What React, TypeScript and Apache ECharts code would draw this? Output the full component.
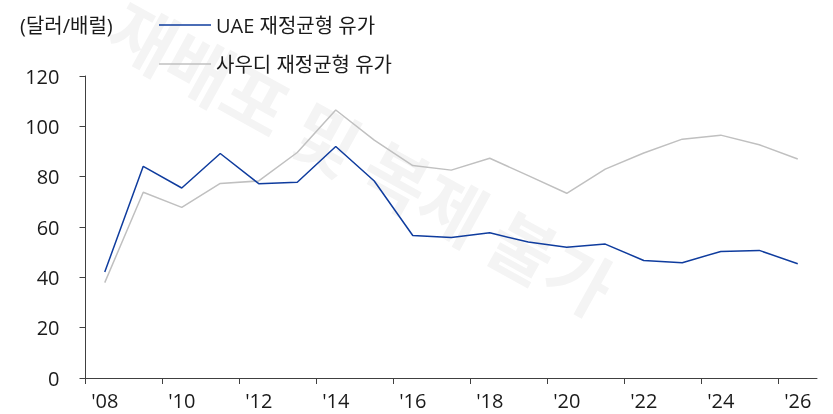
import React, { useEffect, useRef } from "react";
import * as echarts from "echarts";

const years = ["'08", "'09", "'10", "'11", "'12", "'13", "'14", "'15", "'16", "'17", "'18", "'19", "'20", "'21", "'22", "'23", "'24", "'25", "'26"];
const uaeValues = [42.1, 84.1, 75.5, 89.2, 77.2, 77.8, 92.0, 78.3, 56.6, 55.8, 57.7, 54.0, 52.0, 53.2, 46.7, 45.8, 50.3, 50.7, 45.4];
const saudiValues = [37.9, 73.8, 67.8, 77.3, 78.3, 89.6, 106.5, 94.5, 84.4, 82.6, 87.3, 80.4, 73.4, 83.0, 89.4, 94.9, 96.5, 92.7, 87.0];
const seriesNames = ["UAE 재정균형 유가", "사우디 재정균형 유가"];
const unitLabel = "(달러/배럴)";
const watermark = "재배포 및 복제 불가";

const FONT = "'Open Sans', 'Noto Sans CJK KR', sans-serif";

export default function App() {
  const ref = useRef<HTMLDivElement>(null);
  useEffect(() => {
    if (!ref.current) return;
    const chart = echarts.init(ref.current, null, { renderer: "svg" });
    const n = years.length;
    const tickPositions = years.map((_, i) => i).filter((i) => i % 2 === 0);
    const labelPositions = tickPositions.map((i) => i + 0.5);
    const toPoints = (arr: number[]) => arr.map((v, i) => [i + 0.5, v]);
    chart.setOption({
      animation: false,
      textStyle: { fontFamily: FONT },
      graphic: [
        {
          type: "text",
          x: 609,
          y: 292,
          rotation: -0.506,
          z: -1,
          silent: true,
          style: {
            text: watermark,
            fontSize: 70,
            fontWeight: "bold",
            fontFamily: "'Noto Sans CJK KR', sans-serif",
            fill: "#f4f4f4",
            align: "right",
            verticalAlign: "middle",
          },
        },
        {
          type: "text",
          left: 20,
          top: 15,
          style: { text: unitLabel, fontSize: 20, fontFamily: FONT, fill: "#1a1a1a" },
        },
      ],
      legend: {
        orient: "vertical",
        left: 154,
        top: 10,
        icon: "rect",
        itemWidth: 52,
        itemHeight: 1.5,
        itemGap: 19,
        textStyle: { fontSize: 20, color: "#1a1a1a", fontFamily: FONT },
        data: seriesNames,
      },
      grid: { left: 85.5, right: 16, top: 76, bottom: 36, containLabel: false },
      xAxis: {
        type: "value",
        min: 0,
        max: n,
        axisLine: { show: true, lineStyle: { color: "#404040", width: 1 } },
        axisTick: { show: true, length: 6, customValues: tickPositions, lineStyle: { color: "#404040" } },
        axisLabel: {
          customValues: labelPositions,
          fontSize: 20,
          color: "#1a1a1a",
          margin: 12,
          fontFamily: FONT,
          formatter: (v: number) => years[Math.floor(v)] ?? "",
        },
        splitLine: { show: false },
      },
      yAxis: {
        type: "value",
        min: 0,
        max: 120,
        interval: 20,
        axisLine: { show: true, lineStyle: { color: "#404040", width: 1 } },
        axisTick: { show: true, length: 6, lineStyle: { color: "#404040" } },
        axisLabel: { fontSize: 20, color: "#1a1a1a", margin: 26, fontFamily: FONT },
        splitLine: { show: false },
      },
      series: [
        {
          name: seriesNames[0],
          type: "line",
          data: toPoints(uaeValues),
          symbol: "none",
          lineStyle: { color: "#0F3C9E", width: 1.5 },
          itemStyle: { color: "#0F3C9E" },
          z: 3,
        },
        {
          name: seriesNames[1],
          type: "line",
          data: toPoints(saudiValues),
          symbol: "none",
          lineStyle: { color: "#C0C0C0", width: 1.5 },
          itemStyle: { color: "#C0C0C0" },
          z: 2,
        },
      ],
    });
    return () => chart.dispose();
  }, []);
  return <div ref={ref} style={{ position: "fixed", left: 0, top: 0, width: 833, height: 414 }} />;
}
